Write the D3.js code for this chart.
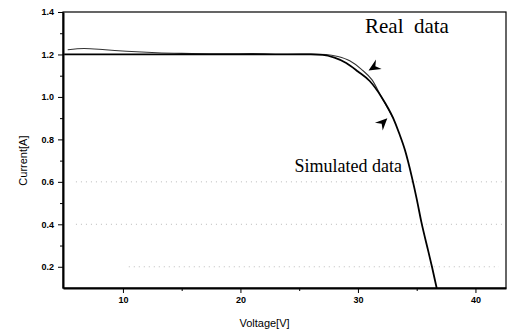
<!DOCTYPE html>
<html>
<head>
<meta charset="utf-8">
<script src="https://cdn.jsdelivr.net/npm/d3@7"></script>
<style>
  body { margin: 0; background: #fff; }
  .tick text { font-family: Arial, "Liberation Sans", sans-serif; font-weight: bold; }
</style>
</head>
<body>
<div id="chart"></div>
<script>
var svgWidth = 509;
var svgHeight = 336;

var margin = { top: 12, right: 3, bottom: 48, left: 63 };
var width = svgWidth - margin.left - margin.right;
var height = svgHeight - margin.top - margin.bottom;

// values
var simVoltage = [5, 26, 27, 28, 29, 30, 31, 32, 33, 33.5, 34, 34.6, 35, 35.4, 36, 36.3, 36.7];
var simCurrent = [1.2, 1.2, 1.198, 1.185, 1.16, 1.12, 1.075, 1.0, 0.9, 0.83, 0.75, 0.62, 0.52, 0.41, 0.27, 0.2, 0.1];

var realVoltage = [5.3, 6.7, 8.5, 10.3, 12.9, 15, 18, 21, 24, 26, 27.3, 28.3, 29.3, 30.3, 31.2, 32, 33];
var realCurrent = [1.222, 1.228, 1.222, 1.215, 1.208, 1.205, 1.203, 1.204, 1.201, 1.202, 1.2, 1.19, 1.17, 1.13, 1.08, 1.0, 0.9];

var xTicks = [10, 20, 30, 40];
var yTicks = [0.2, 0.4, 0.6, 0.8, 1.0, 1.2, 1.4];
var gridLines = [0.2, 0.4, 0.6];

var svg = d3
  .select("#chart")
  .append("svg")
  .attr("width", svgWidth)
  .attr("height", svgHeight);

var chartGroup = svg
  .append("g")
  .attr("transform", `translate(${margin.left}, ${margin.top})`);

var xScale = d3.scaleLinear().domain([4.9, 42.6]).range([0, width]);
var yScale = d3.scaleLinear().domain([0.1, 1.4]).range([height, 0]);

// faint dotted grid lines
chartGroup
  .append("g")
  .selectAll("line")
  .data(gridLines)
  .enter()
  .append("line")
  .attr("x1", (d) => (d == 0.2 ? xScale(10.5) : xScale(6)))
  .attr("x2", (d) => (d == 0.2 ? xScale(42) : xScale(42.3)))
  .attr("y1", (d) => yScale(d))
  .attr("y2", (d) => yScale(d))
  .attr("stroke", "#aaa")
  .attr("stroke-width", 0.8)
  .attr("stroke-dasharray", "1,4");

// frame
chartGroup
  .append("rect")
  .attr("width", width)
  .attr("height", height)
  .attr("fill", "none")
  .attr("stroke", "#000")
  .attr("stroke-width", 1.2);

// axes
var bottomAxis = d3.axisBottom(xScale).tickValues(xTicks).tickSize(5).tickSizeOuter(0).tickPadding(4).tickFormat(d3.format("d"));
var leftAxis = d3.axisLeft(yScale).tickValues(yTicks).tickSize(5).tickSizeOuter(0).tickPadding(4).tickFormat(d3.format(".1f"));

var xAxisG = chartGroup
  .append("g")
  .attr("transform", "translate(0, " + height + ")")
  .call(bottomAxis);
xAxisG.selectAll("text").style("font-size", "9px");
xAxisG.select(".domain").attr("stroke-width", 2);

var yAxisG = chartGroup.append("g").call(leftAxis);
yAxisG.selectAll("text").style("font-size", "9px");
yAxisG.select(".domain").attr("stroke-width", 2);

// minor ticks
chartGroup
  .append("g")
  .attr("transform", "translate(0, " + height + ")")
  .call(d3.axisBottom(xScale).tickValues([15, 25, 35]).tickSize(3).tickFormat(""))
  .select(".domain")
  .remove();
chartGroup
  .append("g")
  .call(d3.axisLeft(yScale).tickValues([0.3, 0.5, 0.7, 0.9, 1.1, 1.3]).tickSize(3).tickFormat(""))
  .select(".domain")
  .remove();

// axis titles
chartGroup
  .append("text")
  .text("Voltage[V]")
  .attr("x", width / 2 - 20)
  .attr("y", height + 39)
  .style("text-anchor", "middle")
  .style("font-family", "Arial, 'Liberation Sans', sans-serif")
  .style("font-size", "11px");
chartGroup
  .append("text")
  .text("Current[A]")
  .style("text-anchor", "middle")
  .style("font-family", "Arial, 'Liberation Sans', sans-serif")
  .style("font-size", "11px")
  .attr("transform", `translate(-36,${yScale(0.7)}) rotate(-90)`);

// curves
var line = d3
  .line()
  .x((d) => xScale(d[0]))
  .y((d) => yScale(d[1]))
  .curve(d3.curveMonotoneX);

chartGroup
  .append("path")
  .datum(realVoltage.map((v, i) => [v, realCurrent[i]]))
  .attr("d", line)
  .attr("fill", "none")
  .attr("stroke", "#333")
  .attr("stroke-width", 1.1);

chartGroup
  .append("path")
  .datum(simVoltage.map((v, i) => [v, simCurrent[i]]))
  .attr("d", line)
  .attr("fill", "none")
  .attr("stroke", "#000")
  .attr("stroke-width", 1.8);

// annotations
chartGroup
  .append("text")
  .text("Real  data")
  .attr("x", xScale(30.6))
  .attr("y", yScale(1.3))
  .style("white-space", "pre")
  .style("font-family", "'Liberation Serif', 'DejaVu Serif', serif")
  .style("font-size", "21px");
chartGroup
  .append("text")
  .text("Simulated data")
  .attr("x", xScale(33.75))
  .attr("y", yScale(0.645))
  .style("text-anchor", "end")
  .style("font-family", "'Liberation Serif', 'DejaVu Serif', serif")
  .style("font-size", "18px");

function arrowHead(vx, vy, angle) {
  chartGroup
    .append("path")
    .attr("d", "M0,0 L12,-5.5 L8,0 L12,5.5 Z")
    .attr("fill", "#000")
    .attr("transform", `translate(${xScale(vx)},${yScale(vy)}) rotate(${angle})`);
}
arrowHead(30.9, 1.125, -31);
arrowHead(32.5, 0.9, 135);
</script>
</body>
</html>
